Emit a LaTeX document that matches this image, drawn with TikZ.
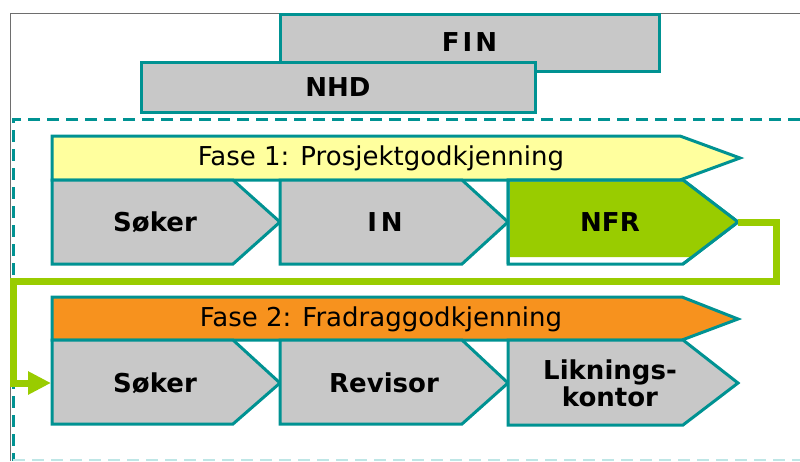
\documentclass[tikz,border=0pt]{standalone}
\usepackage{fontspec}
\setmainfont{DejaVu Sans}
\usetikzlibrary{arrows.meta}

\definecolor{tealline}{RGB}{0,146,146}
\definecolor{boxgray}{RGB}{200,200,200}
\definecolor{faseyellow}{RGB}{255,255,158}
\definecolor{faseorange}{RGB}{247,146,30}
\definecolor{nfrgreen}{RGB}{153,204,0}
\definecolor{framegray}{RGB}{110,110,110}
\definecolor{fadeteal}{RGB}{190,230,230}

\tikzset{
  stage/.style={draw=tealline, line width=3pt, fill=boxgray},
  orgbox/.style={stage, rectangle, inner sep=0pt},
  lbl/.style={font=\fontsize{26}{27}\selectfont\bfseries, align=center},
  faselbl/.style={font=\fontsize{26}{28}\selectfont},
  flow/.style={draw=nfrgreen, line width=7pt, -{Triangle[length=23pt,width=22pt]}}
}

\begin{document}
\begin{tikzpicture}[x=1pt,y=-1pt]
        \useasboundingbox (0,0) rectangle (800,461);

        % Outer frame
        \draw[framegray, line width=1pt] (10,461) -- (10,13) -- (800,13);

        % Departments
        \node[orgbox, minimum width=379pt, minimum height=57pt, lbl] (fin) at (469.5,42.5) {F\kern3pt I\kern3pt N};
        \node[orgbox, minimum width=394pt, minimum height=50pt] (nhd) at (338,87) {};
        \node[lbl] (nhdlbl) at (338,87) {NHD};

        % Dashed process frame
        \draw[tealline, line width=3pt, dash pattern=on 12pt off 7pt] (800,119) -- (13,119) -- (13,461);
        \draw[fadeteal, line width=2pt, dash pattern=on 12pt off 7pt] (13,460) -- (800,460);

        % Fase 1
        \draw[stage, fill=faseyellow] (52,136) -- (680,136) -- (740,158) -- (680,180) -- (52,180) -- cycle;
        \node[faselbl] (fase1) at (381,158) {Fase 1: Prosjektgodkjenning};
        \draw[stage] (52,180) -- (233,180) -- (280,222) -- (233,264) -- (52,264) -- cycle;
        \draw[stage] (280,180) -- (462,180) -- (508,222) -- (462,264) -- (280,264) -- cycle;
        \draw[stage, fill=white] (508,180) -- (683,180) -- (738,222) -- (683,264) -- (508,264) -- cycle;
        \fill[nfrgreen] (510,181.5) -- (683,181.5) -- (736,222) -- (692,257) -- (510,257) -- cycle;
        \draw[tealline, line width=3pt] (508,264) -- (508,180) -- (683,180) -- (738,222) -- (683,264);
        \coordinate (nfrtip) at (738,222);
        \node[lbl] (soker1) at (155,222) {Søker};
        \node[lbl] (in) at (385,222) {I\kern4pt N};
        \node[lbl] (nfr) at (610,222) {NFR};

        % Fase 2
        \draw[stage, fill=faseorange] (52,297) -- (682,297) -- (738,319) -- (682,340) -- (52,340) -- cycle;
        \node[faselbl] (fase2) at (381,319) {Fase 2: Fradraggodkjenning};
        \draw[stage] (52,340) -- (233,340) -- (280,383) -- (233,424) -- (52,424) -- cycle;
        \draw[stage] (280,340) -- (462,340) -- (508,383) -- (462,424) -- (280,424) -- cycle;
        \draw[stage] (508,340) -- (683,340) -- (738,383) -- (683,425) -- (508,425) -- cycle;
        \coordinate (soker2w) at (51,383);
        \node[lbl] (soker2) at (155,383) {Søker};
        \node[lbl] (revisor) at (384,383) {Revisor};
        \node[lbl] (likning) at (610,383) {Liknings-\\kontor};

        % Flow from fase 1 to fase 2
        \draw[flow] (nfrtip) -- (776,222) |- (13.5,281) |- (soker2w);
\end{tikzpicture}
\end{document}
